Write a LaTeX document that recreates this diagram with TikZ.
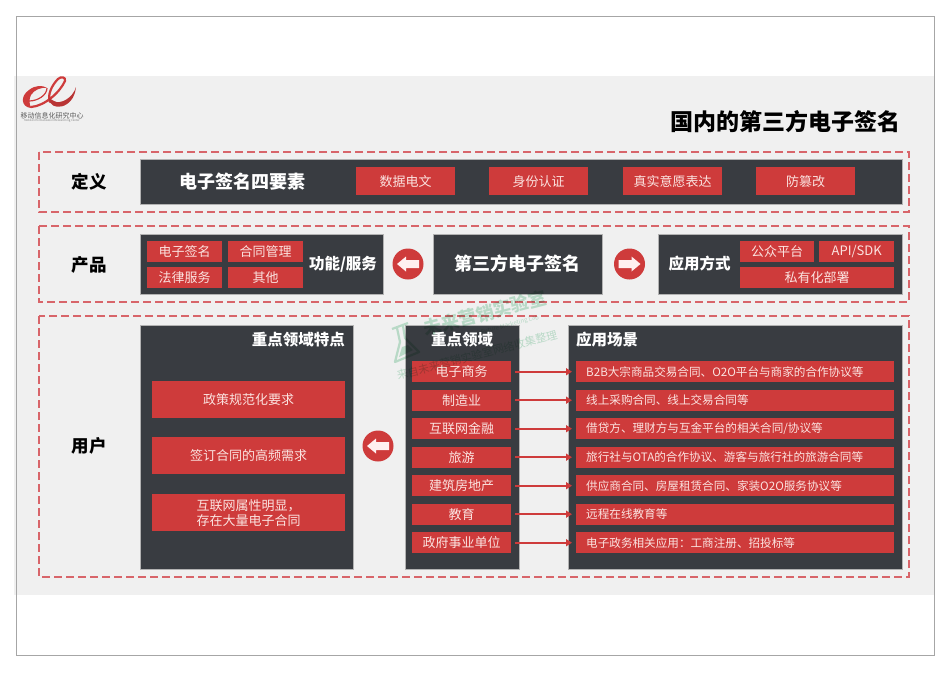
\documentclass[tikz,border=0pt]{standalone}
\usepackage{fontspec}
\setmainfont{Noto Sans CJK SC}
\usepackage{tikz}
\usetikzlibrary{arrows.meta}

\definecolor{darkbg}{HTML}{393C41}
\definecolor{redbg}{HTML}{CE3B3B}
\definecolor{bandbg}{HTML}{F0F0F0}
\definecolor{dashred}{HTML}{D8656A}
\definecolor{redtxt}{HTML}{FBE3E0}
\definecolor{markgreen}{HTML}{3DAF6E}

\newcommand{\blockarrow}[1]{%
    \fill[white!94!red] (path picture bounding box.center) ++({-11*#1},0) -- ++({9*#1},-7.5) -- ++(0,3.5) -- ++({13*#1},0)
        -- ++(0,8) -- ++({-13*#1},0) -- ++(0,3.5) -- cycle;}

\tikzset{
    darkbox/.style={anchor=north west, fill=darkbg, draw=gray!60, line width=0.4pt, inner sep=0pt, text=white},
    redbox/.style={anchor=north west, fill=redbg, inner sep=0pt, text=redtxt, align=center, font=\fontsize{13}{15}\selectfont},
    zonebox/.style={draw=dashred, line width=1.2pt, dash pattern=on 8pt off 4pt},
    headtxt/.style={font=\fontsize{15.5}{18}\selectfont\bfseries, text=white, inner sep=0pt},
    sidetxt/.style={font=\fontsize{17.5}{20}\selectfont\bfseries, text=black, inner sep=0pt},
    roundbtn/.style={circle, fill=redbg, minimum size=31pt, inner sep=0pt},
    btnleft/.style={roundbtn, path picture={\blockarrow{1}}},
    btnright/.style={roundbtn, path picture={\blockarrow{-1}}},
    linkarrow/.style={draw=redbg, line width=1.8pt, shorten <=4pt, shorten >=4pt, -{Triangle[length=6pt,width=7pt]}},
    marktxt/.style={text=markgreen, opacity=0.3, rotate=14.5, inner sep=0pt},
}

\begin{document}
\begin{tikzpicture}[x=1pt,y=-1pt]
    \useasboundingbox (0,0) rectangle (950,672);

    % page and band
    \fill[white] (0,0) rectangle (950,672);
    \fill[bandbg] (14,76) rectangle (935,595);
    \draw[gray!70, line width=1pt] (16,16) rectangle (934,655);

    % logo
    \fill[redbg] (31,108) .. controls (21,107) and (20,96) .. (29,90)
        .. controls (35,85) and (43,85) .. (47,88)
        .. controls (41,87) and (34,90) .. (31,95)
        .. controls (29,99) and (29,103) .. (31,108);
    \draw[redbg, line width=1.2pt] (29,101) .. controls (38,101) and (47,95) .. (47,88);
    \draw[redbg, line width=2.2pt, line cap=round]
        (31,107) .. controls (45,106) and (60,92) .. (65,81)
        .. controls (66,77) and (61,76) .. (58,79)
        .. controls (52,85) and (47,95) .. (50,102);
    \fill[redbg!90!black] (49,98) .. controls (49,112) and (74,110) .. (76,87)
        .. controls (73,98) and (60,105) .. (54,101) -- cycle;
    \node[inner sep=0pt, text=gray!70!black, font=\fontsize{7}{8}\selectfont] (logotxt) at (52,115.5) {移动信息化研究中心};
    \node[inner sep=0pt, text=gray, font=\fontsize{2.8}{3}\selectfont] (logoeng) at (52,120.5) {Mobile Informatization Researching Center};

    % title
    \node[anchor=east, inner sep=0pt, font=\fontsize{23}{26}\selectfont\bfseries] (title) at (901,122) {国内的第三方电子签名};

    % zones
    \draw[zonebox] (39,152) rectangle (909,212);
    \draw[zonebox] (39,226) rectangle (909,302);
    \draw[zonebox] (39,316) rectangle (909,577);
    \node[sidetxt] (defn) at (89,182) {定义};
    \node[sidetxt] (prod) at (89,265) {产品};
    \node[sidetxt] (user) at (89,446) {用户};

    % first row
    \node[darkbox, minimum width=762, minimum height=45] (elembox) at (140,159) {};
    \node[headtxt, font=\fontsize{18}{20}\selectfont\bfseries] (elemhead) at (242,182) {电子签名四要素};
    \foreach \i/\x/\t in {1/356/数据电文, 2/489/身份认证, 3/623/真实意愿表达, 4/756/防篡改}
        \node[redbox, minimum width=99, minimum height=28] (elem\i) at (\x,167) {\t};

    % second row
    \node[darkbox, minimum width=243, minimum height=60] (funcbox) at (140,234) {};
    \node[redbox, minimum width=75, minimum height=21] (func1) at (147,241) {电子签名};
    \node[redbox, minimum width=75, minimum height=21] (func2) at (228,241) {合同管理};
    \node[redbox, minimum width=75, minimum height=21] (func3) at (147,267) {法律服务};
    \node[redbox, minimum width=75, minimum height=21] (func4) at (228,267) {其他};
    \node[headtxt] (funchead) at (343,264) {功能/服务};
    \node[darkbox, minimum width=169, minimum height=60] (corebox) at (433,234) {};
    \node[headtxt, font=\fontsize{18}{20}\selectfont\bfseries] (corehead) at (517.5,264) {第三方电子签名};
    \node[darkbox, minimum width=244, minimum height=60] (waybox) at (658,234) {};
    \node[headtxt] (wayhead) at (699.5,264) {应用方式};
    \node[redbox, minimum width=74, minimum height=21] (way1) at (740,241) {公众平台};
    \node[redbox, minimum width=75, minimum height=21] (way2) at (819,241) {API/SDK};
    \node[redbox, minimum width=154, minimum height=21] (way3) at (740,267) {私有化部署};

    \node[btnleft] (btnfunc) at (408,264) {};
    \node[btnright] (btnway) at (629.5,264) {};

    % third row
    \node[darkbox, minimum width=213, minimum height=244] (featbox) at (140,325) {};
    \node[headtxt, anchor=east] (feathead) at (345,340) {重点领域特点};
    \node[redbox, minimum width=193, minimum height=37] (feat1) at (152,381) {政策规范化要求};
    \node[redbox, minimum width=193, minimum height=37] (feat2) at (152,437) {签订合同的高频需求};
    \node[redbox, minimum width=193, minimum height=37] (feat3) at (152,494) {互联网属性明显，\\存在大量电子合同};

    \node[btnleft] (btnuser) at (378,446) {};

    \node[darkbox, minimum width=114, minimum height=244] (domnbox) at (405,325) {};
    \node[headtxt] (domnhead) at (462,340) {重点领域};
    \node[darkbox, minimum width=334, minimum height=244] (scenbox) at (568,325) {};
    \node[headtxt, anchor=west] (scenhead) at (576,340) {应用场景};

    \foreach \i/\y/\d/\s in {
        1/361/电子商务/{B2B大宗商品交易合同、O2O平台与商家的合作协议等},
        2/389.5/制造业/{线上采购合同、线上交易合同等},
        3/418/互联网金融/{借贷方、理财方与互金平台的相关合同/协议等},
        4/446.5/旅游/{旅行社与OTA的合作协议、游客与旅行社的旅游合同等},
        5/475/建筑房地产/{供应商合同、房屋租赁合同、家装O2O服务协议等},
        6/503.5/教育/{远程在线教育等},
        7/532/政府事业单位/{电子政务相关应用：工商注册、招投标等}}
    {
        \node[redbox, minimum width=99, minimum height=21] (domn\i) at (412,\y) {\d};
        \node[redbox, minimum width=318, minimum height=21, text width=298, align=left, font=\fontsize{11.6}{14}\selectfont] (scen\i) at (576,\y) {\s};
        \draw[linkarrow] (domn\i.east) -- (scen\i.west);
    }

    % watermark
    \begin{scope}[blend mode=multiply]
        \node[marktxt, font=\fontsize{18}{20}\selectfont\bfseries] (markname) at (485,313) {未来营销实验室};
        \node[marktxt, font=\fontsize{11}{13}\selectfont] (marksub) at (477,355) {来自未来营销实验室网络收集整理};
        \node[marktxt, font=\fontsize{6}{7}\selectfont] (markeng) at (510,325) {Future Marketing Lab};
        \draw[markgreen, opacity=0.3, line width=2.2pt, line join=round]
            (392,329) -- (408,323) (397,328) -- (400,342) -- (395,362) -- (419,352) -- (405,338) -- (403,326);
        \fill[markgreen, opacity=0.3] (399,357) -- (402,347) -- (408,345) -- (413,350) -- cycle;
    \end{scope}
\end{tikzpicture}
\end{document}
